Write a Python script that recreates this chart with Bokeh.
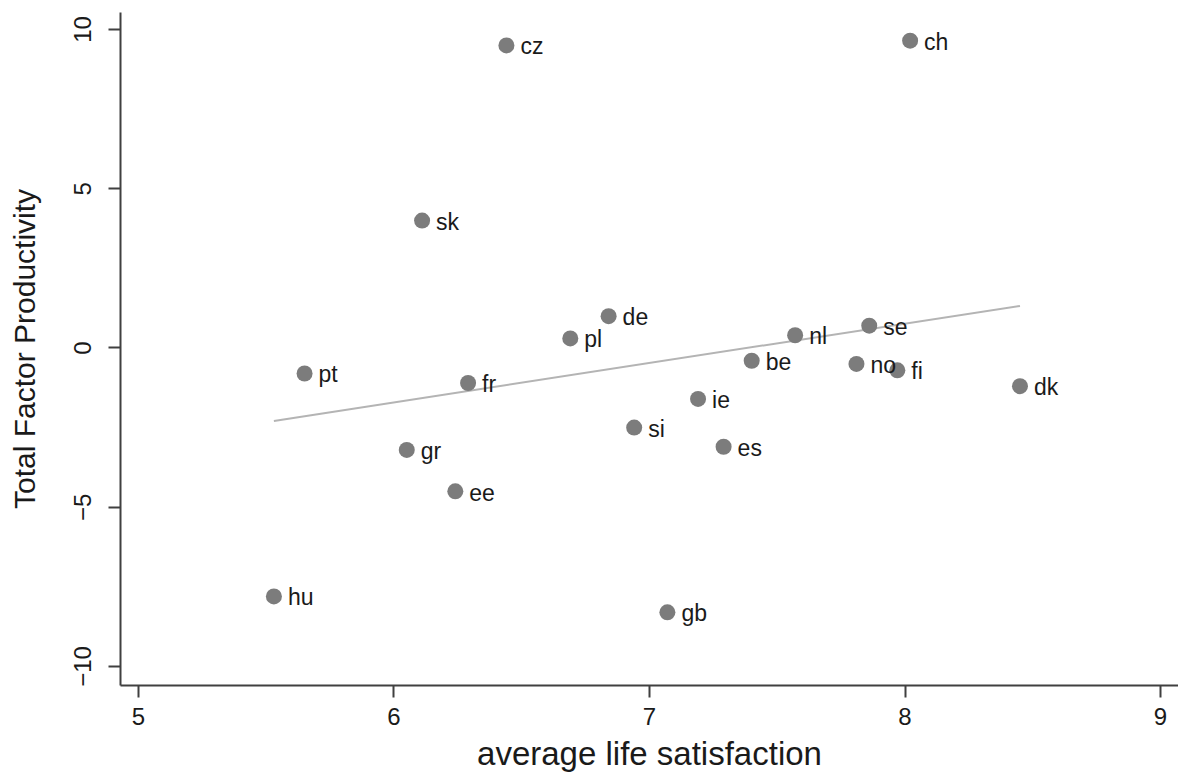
import numpy as np
from bokeh.plotting import figure
from bokeh.models import ColumnDataSource, Range1d, FixedTicker
from bokeh.core.properties import value
from bokeh.embed import file_html
from bokeh.resources import INLINE

countries = ["cz", "ch", "sk", "de", "pl", "nl", "se", "be", "no", "fi",
             "dk", "pt", "fr", "ie", "si", "es", "gr", "ee", "hu", "gb"]
life_satisfaction = [6.44, 8.02, 6.11, 6.84, 6.69, 7.57, 7.86, 7.40, 7.81, 7.97,
                     8.45, 5.65, 6.29, 7.19, 6.94, 7.29, 6.05, 6.24, 5.53, 7.07]
tfp = [9.5, 9.65, 4.0, 1.0, 0.3, 0.4, 0.7, -0.4, -0.5, -0.7,
       -1.2, -0.8, -1.1, -1.6, -2.5, -3.1, -3.2, -4.5, -7.8, -8.3]
x_ticks = [5, 6, 7, 8, 9]
y_ticks = [-10, -5, 0, 5, 10]

FONT = "Liberation Sans"
AXIS_COL = "#404040"
TEXT_COL = "#1a1a1a"

p = figure(width=1178, height=774, output_backend="svg", toolbar_location=None,
           x_range=Range1d(4.9296, 9.0704), y_range=Range1d(-10.597, 10.534),
           min_border_left=120, min_border_top=12, min_border_bottom=89,
           min_border_right=0)
p.outline_line_color = None
p.xgrid.visible = False
p.ygrid.visible = False
p.background_fill_color = "white"
p.border_fill_color = "white"

src = ColumnDataSource(dict(x=life_satisfaction, y=tfp, lab=countries))

# fitted line (OLS on the data)
slope, intercept = np.polyfit(life_satisfaction, tfp, 1)
fx = [min(life_satisfaction), max(life_satisfaction)]
fy = [slope * v + intercept for v in fx]
p.line(fx, fy, line_color="#b4b4b4", line_width=2)

p.scatter("x", "y", source=src, size=16, fill_color="#7c7c7c",
          line_color="#7c7c7c", line_width=0)
p.text("x", "y", text="lab", source=src, x_offset=14, y_offset=1,
       text_baseline="middle", text_align="left",
       text_font=value(FONT), text_font_size="23px", text_color=TEXT_COL)

for ax in (p.xaxis[0], p.yaxis[0]):
    ax.axis_line_color = AXIS_COL
    ax.axis_line_width = 2
    ax.major_tick_line_color = AXIS_COL
    ax.major_tick_line_width = 2
    ax.major_tick_out = 12
    ax.major_tick_in = 0
    ax.minor_tick_line_color = None
    ax.major_label_text_font = FONT
    ax.major_label_text_font_size = "24px"
    ax.major_label_text_color = TEXT_COL
    ax.axis_label_text_font = FONT
    ax.axis_label_text_font_style = "normal"
    ax.axis_label_text_color = TEXT_COL

p.xaxis.axis_label_text_font_size = "33px"
p.yaxis.axis_label_text_font_size = "30px"
p.xaxis.ticker = FixedTicker(ticks=x_ticks)
p.yaxis.ticker = FixedTicker(ticks=y_ticks)
p.xaxis.axis_label = "average life satisfaction"
p.yaxis.axis_label = "Total Factor Productivity"
p.xaxis.major_label_standoff = 10
p.xaxis.axis_label_standoff = 7
p.yaxis.major_label_standoff = 17
p.yaxis.axis_label_standoff = 31
p.yaxis.major_label_orientation = "vertical"

open("out.html", "w").write(file_html(p, INLINE))
